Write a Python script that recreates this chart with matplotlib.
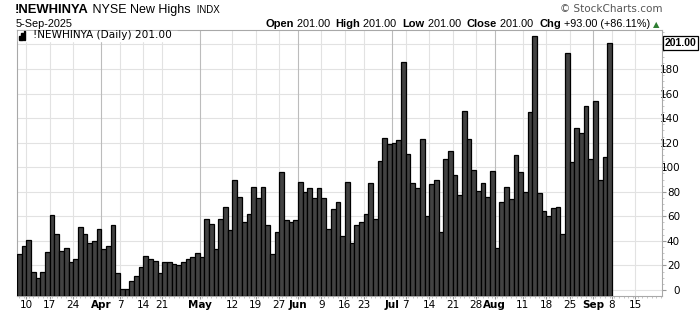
import numpy as np
import pandas as pd
import matplotlib
matplotlib.use("Agg")
import matplotlib.pyplot as plt
from matplotlib.ticker import FixedLocator, MultipleLocator

# daily NYSE new highs, 6-Mar-2025 .. 5-Sep-2025
new_highs = [29, 36, 41, 15, 10, 15, 31, 61, 46, 32,
             34, 23, 25, 51, 46, 38, 40, 50, 33, 36,
             53, 14, 1, 1, 7, 11, 19, 28, 25, 24,
             14, 23, 23, 21, 20, 23, 25, 27, 30, 27,
             58, 54, 33, 58, 68, 49, 90, 76, 55, 62,
             84, 75, 84, 53, 29, 47, 96, 57, 55, 57,
             88, 80, 83, 75, 83, 75, 50, 66, 72, 44,
             88, 38, 53, 55, 62, 87, 58, 105, 124, 119,
             120, 122, 186, 111, 87, 83, 123, 60, 86, 90,
             47, 107, 113, 94, 77, 146, 123, 98, 81, 87,
             76, 97, 34, 72, 84, 74, 110, 96, 80, 145,
             207, 79, 64, 60, 67, 68, 46, 193, 104, 132,
             128, 150, 107, 154, 90, 108, 201]

holidays = ["2025-04-18", "2025-05-26", "2025-06-19", "2025-07-04", "2025-09-01"]
tick_dates = ["2025-03-10", "2025-03-17", "2025-03-24", "2025-04-01", "2025-04-07",
              "2025-04-14", "2025-04-21", "2025-05-01", "2025-05-12", "2025-05-19",
              "2025-05-27", "2025-06-02", "2025-06-09", "2025-06-16", "2025-06-23",
              "2025-07-01", "2025-07-07", "2025-07-14", "2025-07-21", "2025-07-28",
              "2025-08-01", "2025-08-11", "2025-08-18", "2025-08-25", "2025-09-02",
              "2025-09-08", "2025-09-15"]
tick_labels = ["10", "17", "24", "Apr", "7", "14", "21", "May", "12", "19", "27",
               "Jun", "9", "16", "23", "Jul", "7", "14", "21", "28", "Aug", "11",
               "18", "25", "Sep", "8", "15"]
months = {"Apr", "May", "Jun", "Jul", "Aug", "Sep"}

# trading calendar (extends past the last bar so future ticks have a slot)
days = pd.bdate_range("2025-03-06", "2025-09-30")
days = days[~days.isin(pd.to_datetime(holidays))]
pos = {d.strftime("%Y-%m-%d"): i for i, d in enumerate(days)}

W, H = 700, 312
fig = plt.figure(figsize=(7, 3.12), dpi=100)
fig.patch.set_facecolor("white")

def fx(px):
    return px / W

def fy(py):
    return 1 - py / H

ax = fig.add_axes([fx(17), fy(296), fx(662) - fx(17), fy(30) - fy(296)])
ymin, ymax = -4.9, 211.8
x = np.arange(len(new_highs))
vals = np.array(new_highs, dtype=float)
ax.bar(x, vals - ymin, bottom=ymin, width=1.0, color="#424242",
       edgecolor="black", linewidth=0.9, zorder=3)
ax.set_xlim(-0.5, 137.2)
ax.set_ylim(ymin, ymax)

# grid
for v in range(0, 220, 20):
    ax.axhline(v, color="#e2e2e2", lw=0.8, zorder=1)
tpos = [pos[d] - 0.5 for d in tick_dates]
for p, lab in zip(tpos, tick_labels):
    ax.axvline(p, color="#bcbcbc" if lab in months else "#e2e2e2", lw=0.8, zorder=1)

ax.xaxis.set_major_locator(FixedLocator(tpos))
ax.set_xticklabels(tick_labels)
for t in ax.get_xticklabels():
    t.set_fontfamily("DejaVu Sans")
    t.set_fontsize(7.5)
    if t.get_text() in months:
        t.set_fontweight("bold")
ax.xaxis.set_minor_locator(MultipleLocator(1))
ax.tick_params(axis="x", which="major", length=2, color="#999999", pad=1)
ax.tick_params(axis="x", which="minor", length=1.5, color="#bbbbbb")

ax.yaxis.tick_right()
ax.set_yticks(range(0, 200, 20))
ax.yaxis.set_minor_locator(MultipleLocator(5))
ax.tick_params(axis="y", which="major", length=3, color="#999999", pad=10,
               labelsize=7.5)
ax.tick_params(axis="y", which="minor", length=1.5, color="#bbbbbb")
for t in ax.get_yticklabels():
    t.set_horizontalalignment("right")
    t.set_fontfamily("DejaVu Sans")
for s in ax.spines.values():
    s.set_color("#a8a8a8")
    s.set_linewidth(0.8)

# legend row inside the plot
fig.patches.append(plt.Rectangle((fx(18), fy(41)), fx(177) - fx(18), fy(31) - fy(41),
                                 transform=fig.transFigure, color="white", zorder=5))
for i, hgt in enumerate([4, 7, 9]):
    fig.patches.append(plt.Rectangle((fx(19 + i * 2.3), fy(40)), fx(1.6), hgt / H,
                                     transform=fig.transFigure, color="black", zorder=6))
fig.text(fx(33), fy(35.5), "!NEWHINYA (Daily) 201.00", fontsize=7.6,
         family="DejaVu Sans", va="center", ha="left", zorder=7)

# last value marker
fig.text(fx(665), fy(43), "201.00", fontsize=7.5, fontweight="bold",
         family="Liberation Sans", va="center", ha="left",
         bbox=dict(boxstyle="square,pad=0.15", fc="white", ec="black", lw=0.9))

# header
r = fig.canvas.get_renderer()

def run(pieces, x0, y0):
    xc = x0
    for txt, kw in pieces:
        t = fig.text(fx(xc), fy(y0), txt, va="baseline", ha="left",
                     family="Liberation Sans", **kw)
        xc += t.get_window_extent(r).width
    return xc

run([("!NEWHINYA", dict(fontsize=9.4, fontweight="bold")),
     (" NYSE New Highs ", dict(fontsize=9.0)),
     (" INDX", dict(fontsize=7))], 15, 13)
fig.text(fx(16), fy(27), "5-Sep-2025", fontsize=7.8, family="Liberation Sans",
         va="baseline", ha="left")
b = dict(fontsize=8.0, fontweight="bold")
n = dict(fontsize=7.8)
end = run([("Open", b), (" 201.00  ", n), ("High", b), (" 201.00  ", n),
           ("Low", b), (" 201.00  ", n), ("Close", b), (" 201.00  ", n),
           ("Chg", b), (" +93.00 (+86.11%) ", n)], 265, 27)
fig.text(fx(end), fy(27), "\u25b2", fontsize=6, color="#2e7d32",
         family="DejaVu Sans", va="baseline", ha="left")
fig.text(fx(663), fy(9), "\u00a9 StockCharts.com", fontsize=7.5, color="#555555",
         family="DejaVu Sans", va="center", ha="right")

fig.savefig("out.png", dpi=100)
